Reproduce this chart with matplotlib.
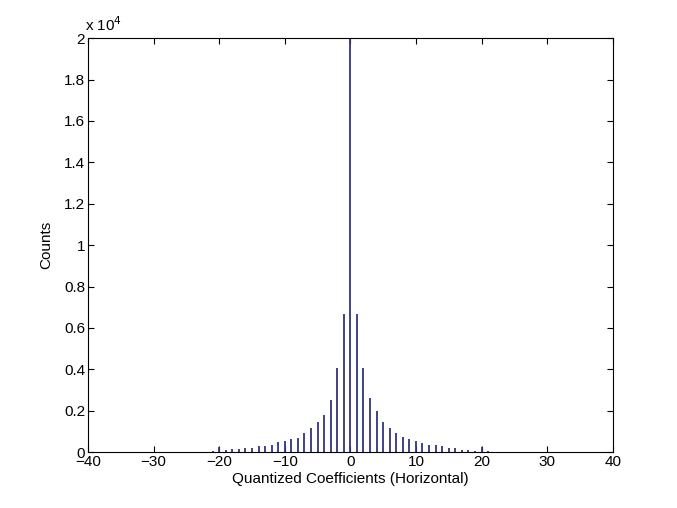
import numpy as np
import matplotlib
matplotlib.use('Agg')
import matplotlib.pyplot as plt
from matplotlib.ticker import FuncFormatter

plt.rcParams['font.family'] = ['Liberation Sans', 'DejaVu Sans']
plt.rcParams['font.size'] = 11

# Histogram of quantized coefficients (bin centre -> count)
coeffs = list(range(-21, 22))
counts = [50, 270, 100, 130, 160, 180, 180, 310, 310, 340,
          470, 520, 630, 700, 940, 1170, 1460, 1800, 2530, 4040,
          6670, 25000, 6670, 4040, 2630, 2000, 1460, 1170, 920, 750,
          630, 520, 440, 330, 330, 280, 180, 180, 110, 100,
          35, 240, 30]

fig = plt.figure(figsize=(6.77, 5.08), dpi=100)
ax = fig.add_axes([0.13, 0.11, 0.775, 0.815])

ax.vlines(coeffs, 0, counts, colors='#33337f', linewidth=1.3)

ax.set_xlim(-40, 40)
ax.set_ylim(0, 20000)
ax.set_xticks(np.arange(-40, 41, 10))
ax.set_yticks(np.arange(0, 20001, 2000))
ax.yaxis.set_major_formatter(FuncFormatter(lambda v, p: '%g' % (v / 1e4)))
ax.tick_params(direction='in', top=True, right=True, length=4, width=0.8, pad=2)
for s in ax.spines.values():
    s.set_linewidth(0.8)

ax.text(-0.005, 1.01, r'x 10$^4$', transform=ax.transAxes, ha='left', va='bottom', fontsize=11)

ax.set_xlabel('Quantized Coefficients (Horizontal)', labelpad=2)
ax.set_ylabel('Counts', labelpad=8)

fig.savefig('out.png', dpi=100)
